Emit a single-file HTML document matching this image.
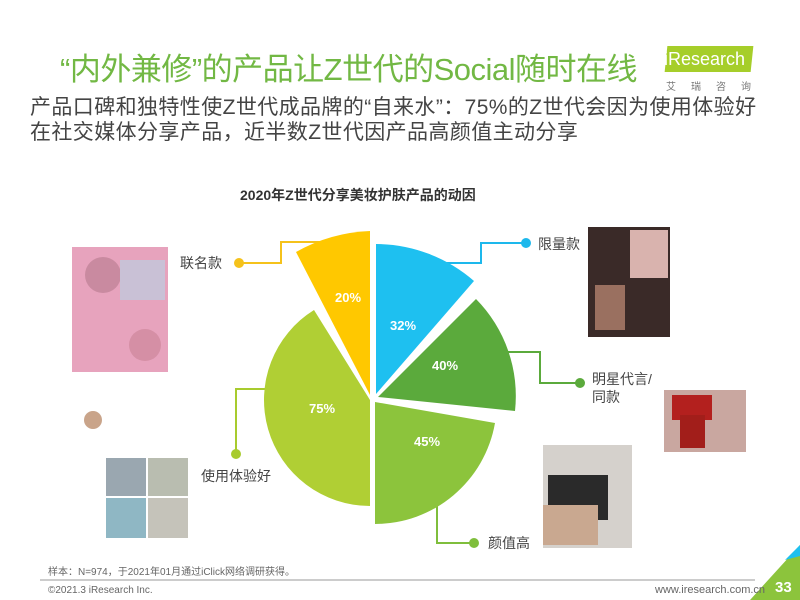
<!DOCTYPE html>
<html><head><meta charset="utf-8"><style>
body{margin:0;background:#fff;}
#p{position:relative;width:800px;height:600px;overflow:hidden;background:#fff;font-family:"Liberation Sans","Noto Sans CJK SC",sans-serif;}
.t{position:absolute;white-space:nowrap;}
</style></head><body><div id="p">
<div class="t" style="left:60px;top:44px;font-size:31px;color:#72B844;letter-spacing:-0.5px;">“内外兼修”的产品让Z世代的Social随时在线</div>
<div style="position:absolute;left:666px;top:46px;width:86px;height:26px;background:#A6CE2A;transform:skewX(-6deg);"></div>
<div class="t" style="left:664px;top:49px;font-size:18px;color:#fff;">iResearch</div>
<div class="t" style="left:666px;top:78px;font-size:10px;color:#777;letter-spacing:15px;">艾瑞咨询</div>
<div class="t" style="left:30px;top:95px;font-size:21px;color:#444;line-height:25px;letter-spacing:0.4px;">产品口碑和独特性使Z世代成品牌的“自来水”：75%的Z世代会因为使用体验好<br>在社交媒体分享产品，近半数Z世代因产品高颜值主动分享</div>
<div class="t" style="left:240px;top:185px;font-size:14px;font-weight:bold;color:#333;">2020年Z世代分享美妆护肤产品的动因</div>

<svg width="800" height="600" style="position:absolute;left:0;top:0">
<rect x="72" y="247" width="96" height="125" fill="#E7A3BD"/>
<circle cx="103" cy="275" r="18" fill="#C98AA0"/><circle cx="145" cy="345" r="16" fill="#D58FA5"/>
<rect x="120" y="260" width="45" height="40" fill="#C9C1D6"/>
<rect x="106" y="458" width="40" height="38" fill="#9AA7B0"/><rect x="148" y="458" width="40" height="38" fill="#B9BDB0"/>
<rect x="106" y="498" width="40" height="40" fill="#8FB7C4"/><rect x="148" y="498" width="40" height="40" fill="#C5C3BA"/>
<circle cx="93" cy="420" r="9" fill="#C9A48A"/>
<rect x="588" y="227" width="82" height="110" fill="#3A2A28"/>
<rect x="630" y="230" width="38" height="48" fill="#D9B3AE"/><rect x="595" y="285" width="30" height="45" fill="#9A7060"/>
<rect x="664" y="390" width="82" height="62" fill="#C9A7A0"/><rect x="672" y="395" width="40" height="25" fill="#B3201E"/><rect x="680" y="415" width="25" height="33" fill="#A21E1A"/>
<rect x="543" y="445" width="89" height="103" fill="#D5D1CC"/><rect x="548" y="475" width="60" height="45" fill="#2A2A2A"/><rect x="543" y="505" width="55" height="40" fill="#C9A890"/>
<g fill="none" stroke-width="2">
<polyline points="239,263 281,263 281,242 330,242" stroke="#F5C21B"/>
<polyline points="526,243 481,243 481,263 440,263" stroke="#1DB8EC"/>
<polyline points="500,352 540,352 540,383 580,383" stroke="#5BAA3C"/>
<polyline points="268,389 236,389 236,454" stroke="#A8CB2E"/>
<polyline points="437,505 437,543 474,543" stroke="#7FBE3C"/>
</g>
<circle cx="239" cy="263" r="5" fill="#F5C21B"/>
<circle cx="526" cy="243" r="5" fill="#1DB8EC"/>
<circle cx="580" cy="383" r="5" fill="#5BAA3C"/>
<circle cx="236" cy="454" r="5" fill="#A8CB2E"/>
<circle cx="474" cy="543" r="5" fill="#7FBE3C"/>
<path d="M370,395 L296,252 A164,164 0 0 1 370,231 Z" fill="#FFC800"/>
<path d="M376,394 L376,244 A150,150 0 0 1 474,281 Z" fill="#1EC0F0"/>
<path d="M378,397 L476,299 A138,138 0 0 1 515,411 Z" fill="#5BAA3C"/>
<path d="M375,402 L495,423 A122,122 0 0 1 375,524 Z" fill="#8CC43C"/>
<path d="M370,400 L370,506 A106,106 0 0 1 314,310 Z" fill="#B0CF34"/>
<g font-family="Liberation Sans" font-weight="bold" font-size="13" fill="#fff" text-anchor="middle">
<text x="348" y="302">20%</text><text x="403" y="330">32%</text><text x="445" y="370">40%</text><text x="427" y="446">45%</text><text x="322" y="413">75%</text>
</g>
<line x1="40" y1="580" x2="755" y2="580" stroke="#999" stroke-width="1"/>
<polygon points="750,600 800,545 800,600" fill="#8CC43C"/>
<polygon points="785,560 800,545 800,556" fill="#1EC0F0"/>
</svg>
<div class="t" style="left:180px;top:253px;font-size:14px;color:#444;">联名款</div>
<div class="t" style="left:538px;top:234px;font-size:14px;color:#444;">限量款</div>
<div class="t" style="left:592px;top:370px;font-size:14px;color:#444;line-height:18px;">明星代言/<br>同款</div>
<div class="t" style="left:201px;top:466px;font-size:14px;color:#444;">使用体验好</div>
<div class="t" style="left:488px;top:533px;font-size:14px;color:#444;">颜值高</div>
<div class="t" style="left:48px;top:563px;font-size:10px;color:#666;">样本：N=974，于2021年01月通过iClick网络调研获得。</div>
<div class="t" style="left:48px;top:585px;font-size:10px;color:#666;">©2021.3 iResearch Inc.</div>
<div class="t" style="left:655px;top:584px;font-size:11px;color:#666;">www.iresearch.com.cn</div>
<div class="t" style="left:775px;top:579px;font-size:15px;font-weight:bold;color:#fff;">33</div>
</div></body></html>
